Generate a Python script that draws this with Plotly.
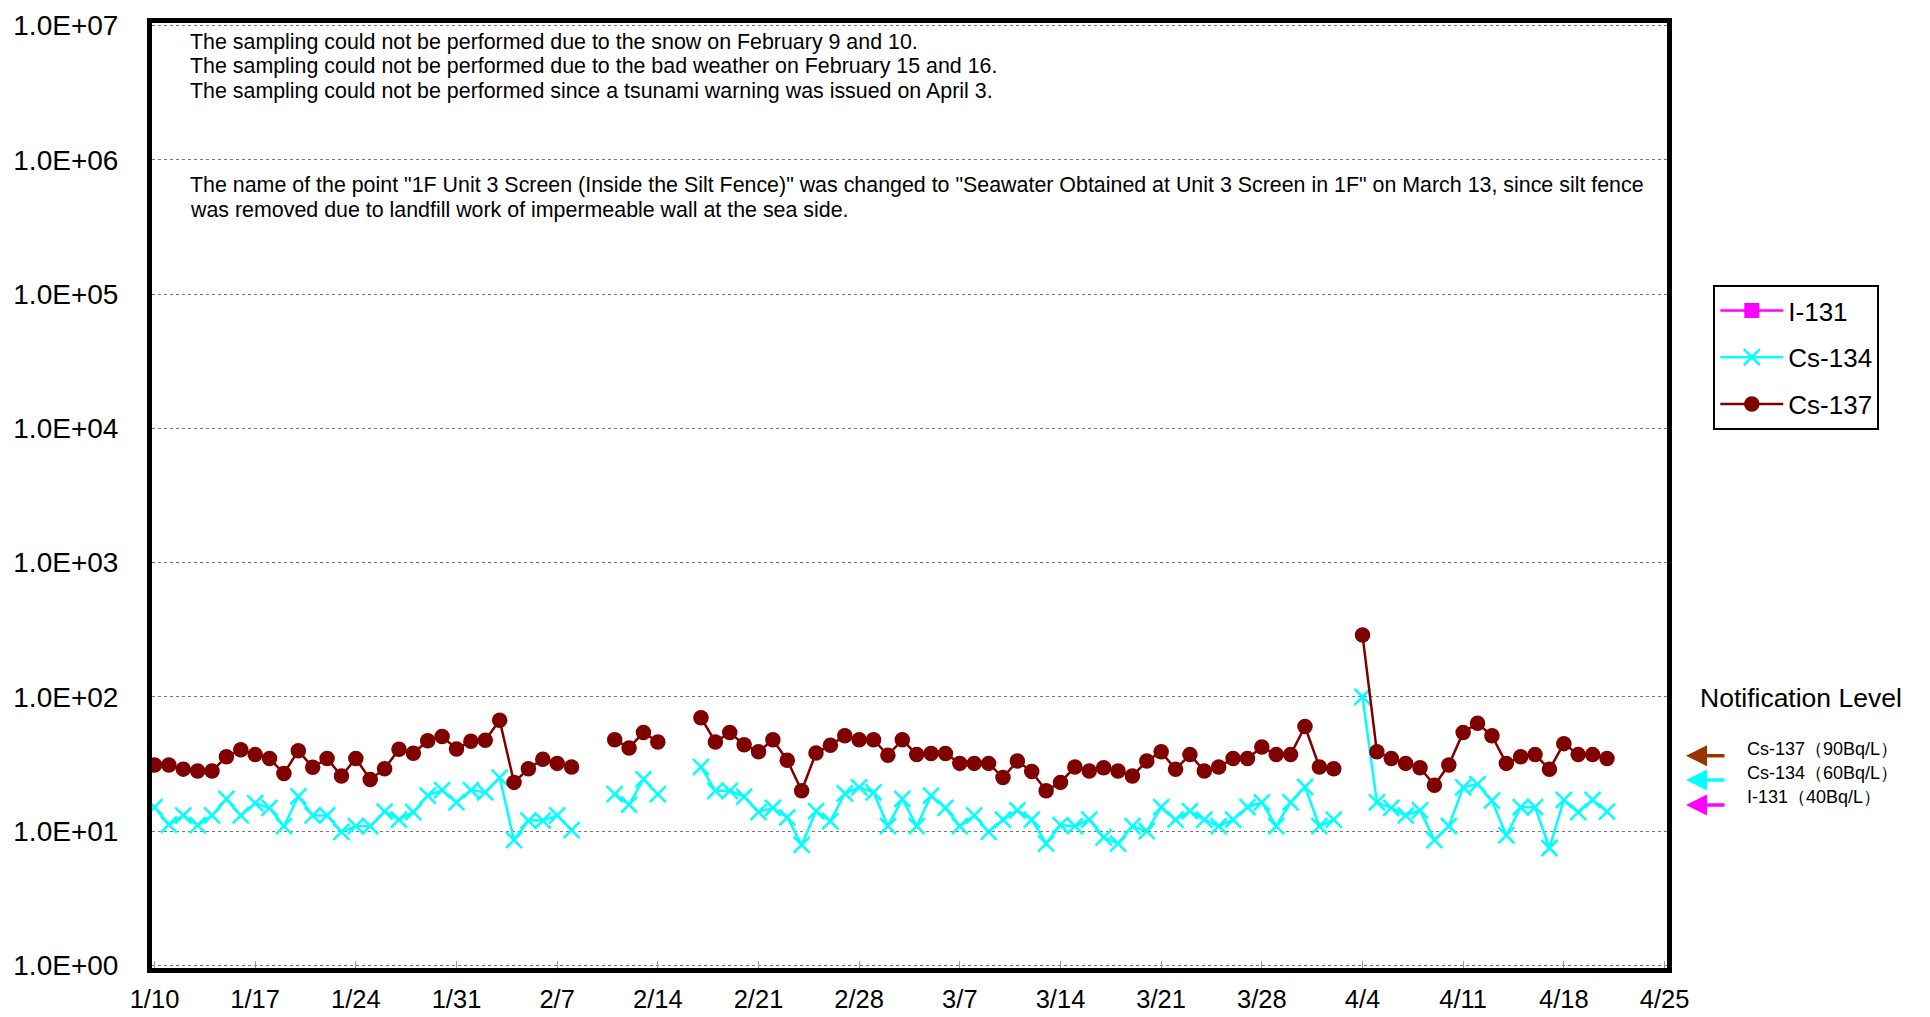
import pandas as pd
import plotly.graph_objects as go

# Dates (2014), daily from 1/10 to 4/21; missing samples are None
dates = pd.date_range("2014-01-10", "2014-04-21").strftime("%Y-%m-%d").tolist()

cs137 = [
    # 1/10 - 1/31
    31.1, 31.1, 29.0, 28.1, 28.1, 35.8, 40.5, 37.2, 34.8, 26.9, 39.8, 29.9, 34.8, 25.8, 34.8, 24.3,
    29.2, 40.8, 38.1, 47.2, 50.8, 41.0,
    # 2/1 - 2/28
    46.7, 47.5, 67.0, 23.1, 29.2, 34.4, 32.0, 30.1, None, None, 48.0, 41.7, 54.4, 46.2, None, None,
    70.1, 46.2, 54.4, 44.1, 39.0, 48.0, 33.8, 20.0, 38.3, 43.6, 51.4, 48.0,
    # 3/1 - 3/31
    48.0, 36.8, 48.0, 37.2, 37.9, 37.9, 32.0, 32.0, 32.0, 25.1, 33.3, 27.8, 20.0, 23.1, 30.1,
    28.1, 29.7, 28.1, 25.8, 33.3, 39.0, 28.9, 37.2, 28.1, 30.1, 34.8, 34.8, 42.4, 37.2, 37.2, 60.2,
    # 4/1 - 4/21
    30.1, 29.2, None, 289, 39.0, 34.8, 32.0, 29.7, 22.0, 31.1, 54.4, 63.7, 51.4, 32.0, 35.8, 37.2,
    28.9, 44.9, 37.2, 37.2, 34.8,
]

cs134 = [
    # 1/10 - 1/31
    15.1, 11.2, 13.1, 11.1, 13.1, 17.4, 13.1, 16.2, 14.9, 10.9, 18.2, 13.1, 13.1, 9.9, 10.9, 10.9,
    14.0, 12.2, 13.9, 18.4, 20.2, 16.4,
    # 2/1 - 2/28
    20.2, 19.5, 25.1, 8.6, 12.0, 12.0, 13.1, 10.2, None, None, 18.9, 15.8, 24.4, 18.9, None, None,
    30.1, 20.0, 20.0, 18.1, 13.9, 14.9, 12.7, 7.9, 14.1, 11.9, 19.1, 21.2,
    # 3/1 - 3/31
    19.5, 10.9, 17.4, 10.9, 18.4, 14.9, 10.9, 13.1, 9.9, 12.2, 14.3, 12.2, 8.1, 11.1, 10.9,
    12.2, 9.0, 8.1, 10.9, 10.0, 15.1, 12.2, 14.1, 12.2, 10.9, 12.2, 15.1, 16.4, 10.9, 16.4, 21.4,
    # 4/1 - 4/21
    10.9, 12.2, None, 100, 16.4, 14.9, 13.1, 14.3, 8.6, 10.9, 21.2, 22.4, 16.9, 9.3, 15.1, 15.1,
    7.5, 17.1, 13.9, 17.1, 14.0,
]

i131 = [None] * len(dates)  # all below detection limit

x_tick_dates = ["2014-01-10", "2014-01-17", "2014-01-24", "2014-01-31", "2014-02-07", "2014-02-14",
                "2014-02-21", "2014-02-28", "2014-03-07", "2014-03-14", "2014-03-21", "2014-03-28",
                "2014-04-04", "2014-04-11", "2014-04-18", "2014-04-25"]
x_tick_labels = ["1/10", "1/17", "1/24", "1/31", "2/7", "2/14", "2/21", "2/28", "3/7", "3/14",
                 "3/21", "3/28", "4/4", "4/11", "4/18", "4/25"]
y_tick_vals = [1, 10, 100, 1e3, 1e4, 1e5, 1e6, 1e7]
y_tick_labels = ["1.0E+00", "1.0E+01", "1.0E+02", "1.0E+03", "1.0E+04", "1.0E+05", "1.0E+06", "1.0E+07"]

notes_top = [
    "The sampling could not be performed due to the snow on February 9 and 10.",
    "The sampling could not be performed due to the bad weather on February 15 and 16.",
    "The sampling could not be performed since a tsunami warning was issued on April 3.",
]
notes_bottom = [
    "The name of the point \"1F Unit 3 Screen (Inside the Silt Fence)\" was changed to \"Seawater Obtained at Unit 3 Screen in 1F\" on March 13, since silt fence",
    "was removed due to landfill work of impermeable wall at the sea side.",
]
notif_labels = ["Cs-137（90Bq/L）", "Cs-134（60Bq/L）", "I-131（40Bq/L）"]
notif_colors = ["#993300", "#00FFFF", "#FF00FF"]

FONT = "Liberation Sans, Arial, sans-serif"

# ---- layout geometry (page offset of 8 px from default body margin) ----
OFF = 8
FW, FH = 1930 - OFF, 1017 - OFF
L, T, R, B = 144.2, 15, 263, 49
W = FW - L - R
H = FH - T - B


def px(xp):
    return (xp - OFF - L) / W


def py(yp):
    return (T + H - (yp - OFF)) / H


fig = go.Figure()
fig.add_trace(go.Scatter(
    x=dates, y=i131, name="I-131", mode="lines+markers", legendgroup="a",
    line=dict(color="#FF00FF", width=2.5),
    marker=dict(symbol="square", size=15, color="#FF00FF"),
))
fig.add_trace(go.Scatter(
    x=dates, y=cs134, name="Cs-134", mode="lines+markers", legendgroup="b",
    line=dict(color="#00FFFF", width=2.5),
    marker=dict(symbol="x-thin", size=16, color="#00FFFF", line=dict(color="#00FFFF", width=2.5)),
))
fig.add_trace(go.Scatter(
    x=dates, y=cs137, name="Cs-137", mode="lines+markers", legendgroup="c",
    line=dict(color="#800000", width=2.5),
    marker=dict(symbol="circle", size=15.5, color="#800000"),
))

annotations = []
for txt, yp in zip(notes_top + notes_bottom, [41.9, 66.5, 91.1, 184.6, 210.5]):
    annotations.append(dict(xref="paper", yref="paper", x=px(188), y=py(yp),
                            xanchor="left", yanchor="middle", text=txt, showarrow=False,
                            font=dict(family=FONT, size=21.4, color="black")))
annotations.append(dict(xref="paper", yref="paper", x=px(1801), y=py(698),
                        xanchor="center", yanchor="middle", text="Notification Level",
                        showarrow=False, font=dict(family=FONT, size=26.5, color="black")))
for lab, col, ya, yl in zip(notif_labels, notif_colors, [755.7, 780, 805], [749, 773, 797]):
    annotations.append(dict(xref="paper", yref="paper", x=px(1686), y=py(ya), ax=40, ay=0,
                            text="", showarrow=True, arrowhead=2, arrowsize=1.2, arrowwidth=3.5,
                            arrowcolor=col))
    annotations.append(dict(xref="paper", yref="paper", x=px(1745), y=py(yl), xanchor="left",
                            yanchor="middle", text=lab, showarrow=False,
                            font=dict(family=FONT, size=18, color="black")))

# axis ranges extended so the data frame coincides with the centre of the 5px border line
pad_days = 2.5 / (W / 105.0)
x0 = pd.Timestamp("2014-01-10") - pd.Timedelta(days=pad_days)
x1 = pd.Timestamp("2014-04-25") + pd.Timedelta(days=pad_days)
pad_dec = 2.5 / (H / 7.0)

fig.update_layout(
    width=FW, height=FH,
    margin=dict(l=L, r=R, t=T, b=B, pad=0, autoexpand=False),
    paper_bgcolor="white", plot_bgcolor="white",
    font=dict(family=FONT, color="black"),
    showlegend=True,
    legend=dict(x=px(1713.3), y=py(285), xanchor="left", yanchor="top",
                bgcolor="white", bordercolor="black", borderwidth=2,
                font=dict(family=FONT, size=26, color="black"),
                itemwidth=63,
                traceorder="grouped", tracegroupgap=10),
    xaxis=dict(type="date", range=[x0.isoformat(), x1.isoformat()], automargin=False,
               tickvals=x_tick_dates, ticktext=x_tick_labels,
               ticks="inside", ticklen=7, tickcolor="#999999", tickwidth=1,
               ticklabelstandoff=4,
               showgrid=False, zeroline=False,
               showline=True, linecolor="black", linewidth=5, mirror=True,
               tickfont=dict(family=FONT, size=25.5, color="black")),
    yaxis=dict(type="log", range=[-pad_dec, 7 + pad_dec], automargin=False,
               tickvals=y_tick_vals, ticktext=y_tick_labels, ticks="",
               ticklabelstandoff=23,
               showgrid=True, gridcolor="#777777", griddash="dot", gridwidth=1,
               zeroline=False,
               showline=True, linecolor="black", linewidth=5, mirror=True,
               tickfont=dict(family=FONT, size=28, color="black")),
    annotations=annotations,
)

fig.write_html("out.html")
